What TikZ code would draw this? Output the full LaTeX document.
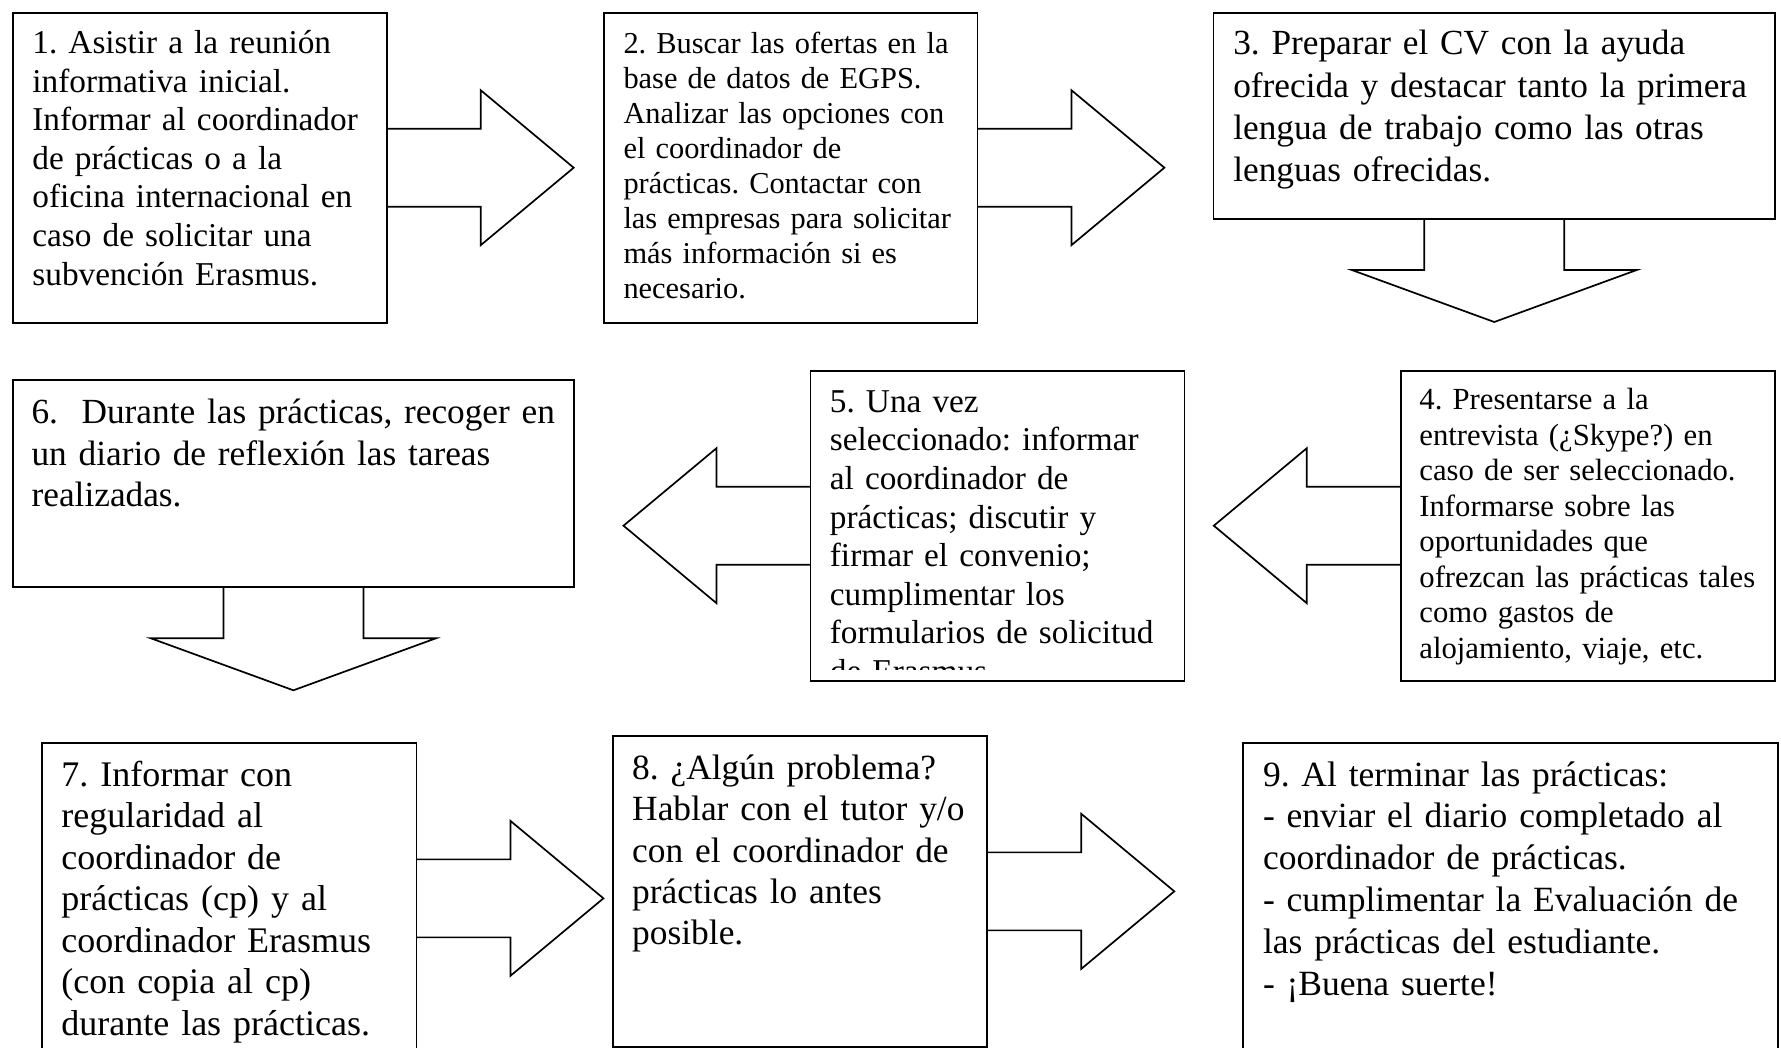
\documentclass[tikz,border=0pt]{standalone}
\usepackage{fontspec}
\setmainfont{Liberation Serif}
\usetikzlibrary{calc}
\frenchspacing
\begin{document}
\begin{tikzpicture}[x=1pt,y=-1pt,
  box/.style={draw, line width=1.7pt, inner sep=0pt, outer sep=0pt},
  arrline/.style={line width=1.7pt, line join=miter},
  txt/.style={anchor=base west, inner sep=0pt, outer sep=0pt, text width=620pt, align=left},
  rarr/.pic={\draw[arrline] (0,-39) -- (94,-39) -- (94,-77.5) -- (187,0) -- (94,77.5) -- (94,39) -- (0,39);},
  larr/.pic={\draw[arrline] (0,-39) -- (-94,-39) -- (-94,-77.5) -- (-187,0) -- (-94,77.5) -- (-94,39) -- (0,39);},
  darr/.pic={\draw[arrline] (-70,0) -- (-70,51) -- (-142.5,51) -- (0,103) -- (142.5,51) -- (70,51) -- (70,0);}
]
\useasboundingbox (0,0) rectangle (1781,1048);
\fill[white] (0,0) rectangle (1781,1048);
\clip (0,0) rectangle (1781,1048);

% boxes
\node[box, minimum width=374pt, minimum height=310pt] (b1) at (199.7,167.7) {};
\node[box, minimum width=373.7pt, minimum height=310pt] (b2) at (790.55,167.7) {};
\node[box, minimum width=561.5pt, minimum height=206.3pt] (b3) at (1494.25,115.85) {};
\node[box, minimum width=374.2pt, minimum height=310pt] (b4) at (1587.9,525.7) {};
\node[box, minimum width=373.9pt, minimum height=310pt] (b5) at (997.45,525.7) {};
\node[box, minimum width=561.4pt, minimum height=207.3pt] (b6) at (293.4,483.65) {};
\node[box, minimum width=374.1pt, minimum height=311.3pt] (b7) at (229.35,898.35) {};
\node[box, minimum width=374.4pt, minimum height=310.7pt] (b8) at (800.1,891.35) {};
\node[box, minimum width=535pt, minimum height=311.3pt] (b9) at (1510.7,898.35) {};

% block arrows
\pic at (b1.east) {rarr};
\pic at (b2.east) {rarr};
\pic at (b3.south) {darr};
\pic at (b4.west) {larr};
\pic at (b5.west) {larr};
\pic at (b6.south) {darr};
\pic at (b7.east) {rarr};
\pic at (b8.east) {rarr};

% texts
\node[txt, font=\fontsize{33.3}{38.6}\selectfont] (t1) at (32.4,53.5)
 {1. Asistir a la reunión\\informativa inicial.\\Informar al coordinador\\de prácticas o a la\\oficina internacional en\\caso de solicitar una\\subvención Erasmus.};
\node[txt, font=\fontsize{30.4}{35}\selectfont] (t2) at (623.5,53.7)
 {2. Buscar las ofertas en la\\base de datos de EGPS.\\Analizar las opciones con\\el coordinador de\\prácticas. Contactar con\\las empresas para solicitar\\más información si es\\necesario.};
\node[txt, font=\fontsize{35.3}{42.2}\selectfont] (t3) at (1233.3,55)
 {3. Preparar el CV con la ayuda\\ofrecida y destacar tanto la primera\\lengua de trabajo como las otras\\lenguas ofrecidas.};
\node[txt, font=\fontsize{30.7}{35.5}\selectfont] (t4) at (1419.4,410)
 {4. Presentarse a la\\entrevista (¿Skype?) en\\caso de ser seleccionado.\\Informarse sobre las\\oportunidades que\\ofrezcan las prácticas tales\\como gastos de\\alojamiento, viaje, etc.};
\begin{scope}
\clip (812,372) rectangle (1183,669);
\node[txt, font=\fontsize{33.3}{38.6}\selectfont] (t5) at (829.9,412.3)
 {5. Una vez\\seleccionado: informar\\al coordinador de\\prácticas; discutir y\\firmar el convenio;\\cumplimentar los\\formularios de solicitud\\de Erasmus.};
\end{scope}
\node[txt, font=\fontsize{35.3}{41.3}\selectfont] (t6) at (31.6,424)
 {6.\ \ Durante las prácticas, recoger en\\un diario de reflexión las tareas\\realizadas.};
\node[txt, font=\fontsize{36}{41.5}\selectfont] (t7) at (61.3,786)
 {7. Informar con\\regularidad al\\coordinador de\\prácticas (cp) y al\\coordinador Erasmus\\(con copia al cp)\\durante las prácticas.};
\node[txt, font=\fontsize{35.4}{41.4}\selectfont] (t8) at (632.2,779.3)
 {8. ¿Algún problema?\\Hablar con el tutor y/o\\con el coordinador de\\prácticas lo antes\\posible.};
\node[txt, font=\fontsize{35.5}{41.8}\selectfont] (t9) at (1263,786)
 {9. Al terminar las prácticas:\\- enviar el diario completado al\\coordinador de prácticas.\\- cumplimentar la Evaluación de\\las prácticas del estudiante.\\- ¡Buena suerte!};
\end{tikzpicture}
\end{document}
